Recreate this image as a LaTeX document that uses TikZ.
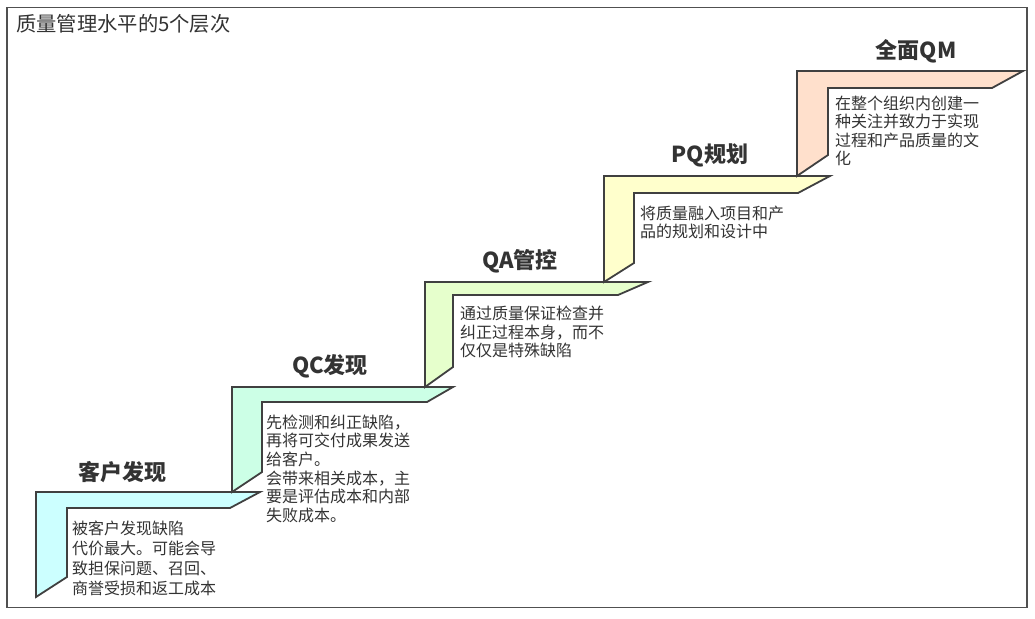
\documentclass[tikz,border=0pt]{standalone}
\usepackage{fontspec}
\setmainfont{Noto Sans CJK SC}
\definecolor{txt}{HTML}{333333}
\definecolor{edge}{HTML}{404040}
\definecolor{frame}{HTML}{505050}
\definecolor{f1}{HTML}{CCFFFF}
\definecolor{f2}{HTML}{CCFFE6}
\definecolor{f3}{HTML}{E6FFCC}
\definecolor{f4}{HTML}{FFFFCC}
\definecolor{f5}{HTML}{FFE0CC}
\tikzset{
  stair/.style={draw=edge, line width=1.8pt, line join=miter},
  steptitle/.style={inner sep=0pt, text=txt, font=\fontsize{22}{24}\selectfont\bfseries},
  desc/.style={inner sep=0pt, anchor=north west, align=left, text=txt, font=\fontsize{16}{18.6}\selectfont},
  heading/.style={inner sep=0pt, anchor=west, text=txt, font=\fontsize{20.3}{24}\selectfont}
}
% colour, L, T, R, IR, IT, IL, IB, B
\newcommand{\stairshape}[9]{%
  \fill[#1] (#2,#9) -- (#2,#3) -- (#4,#3) -- (#5,#6) -- (#7,#6) -- (#7,#8) -- cycle;
  \draw[stair] (#2,#9) -- (#2,#3) -- (#4,#3) -- (#5,#6) -- (#7,#6) -- (#7,#8) -- cycle;
}
\begin{document}
\begin{tikzpicture}[x=1pt,y=-1pt]
\useasboundingbox (0,0) rectangle (1035,618);
\fill[white] (0,0) rectangle (1035,618);
\draw[frame, line width=1.8pt] (7,7.5) rectangle (1027,607.5);
\node[heading] (head) at (16,24) {质量管理水平的5个层次};

\stairshape{f1}{36}{492}{260}{230}{508}{67}{577}{597}
\stairshape{f2}{232}{387}{453}{427}{402}{262}{472}{492}
\stairshape{f3}{425}{282}{648}{618}{295}{453}{367}{387}
\stairshape{f4}{604}{176}{830}{798}{193}{634}{263}{282}
\stairshape{f5}{797}{71}{1023}{992}{88}{828}{155}{176}

\node[steptitle] (t1) at (122.5,472) {客户发现};
\node[steptitle] (t2) at (330,366) {QC发现};
\node[steptitle] (t3) at (520,261) {QA管控};
\node[steptitle] (t4) at (710,155) {PQ规划};
\node[steptitle] (t5) at (916,51) {全面QM};

\node[desc, font=\fontsize{16}{20}\selectfont] (d1) at (72,520.5) {被客户发现缺陷\\代价最大。可能会导\\致担保问题、召回、\\商誉受损和返工成本};
\node[desc] (d2) at (266,414.5) {先检测和纠正缺陷，\\再将可交付成果发送\\给客户。\\会带来相关成本，主\\要是评估成本和内部\\失败成本。};
\node[desc] (d3) at (460,306) {通过质量保证检查并\\纠正过程本身，而不\\仅仅是特殊缺陷};
\node[desc] (d4) at (640,205.5) {将质量融入项目和产\\品的规划和设计中};
\node[desc] (d5) at (835,95.5) {在整个组织内创建一\\种关注并致力于实现\\过程和产品质量的文\\化};
\end{tikzpicture}
\end{document}
